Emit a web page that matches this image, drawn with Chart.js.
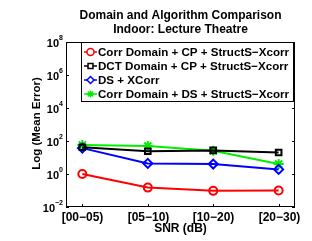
<!DOCTYPE html>
<html><head><meta charset="utf-8">
<script src="https://cdn.jsdelivr.net/npm/chart.js@4"></script>
<style>html,body{margin:0;padding:0;background:#fff}#w{width:312px;height:241px}</style>
</head><body><div id="w"><canvas id="c" width="312" height="241"></canvas></div>
<script>
const categories = ['[00\u221205)', '[05\u221210)', '[10\u221220)', '[20\u221230)'];
const seriesNames = [
  'Corr Domain + CP + StructS\u2212Xcorr',
  'DCT Domain + CP + StructS\u2212Xcorr',
  'DS + XCorr',
  'Corr Domain + DS + StructS\u2212Xcorr'
];
const corrCP = [1.0, 0.15, 0.095, 0.1];
const dctCP = [42, 24, 27, 20];
const dsXcorr = [37, 4.4, 4.0, 1.9];
const corrDS = [58, 50, 26, 4.0];
const yTickExponents = [-2, 0, 2, 4, 6, 8];
const titleLines = ['Domain and Algorithm Comparison', 'Indoor: Lecture Theatre'];
const xTitle = 'SNR (dB)';
const yTitle = 'Log (Mean Error)';

const FONT = '"Liberation Sans", Arial, Helvetica, sans-serif';
const toPts = arr => arr.map((v, i) => ({x: i + 1, y: v}));
const styles = [
  {color: '#ff0000', point: 'circle', r: 4},
  {color: '#000000', point: 'rect', r: 4},
  {color: '#0000ff', point: 'rectRot', r: 4.5},
  {color: '#00ee00', point: 'star', r: 5}
];
const values = [corrCP, dctCP, dsXcorr, corrDS];
const datasets = values.map((v, i) => ({
  label: seriesNames[i],
  data: toPts(v),
  borderColor: styles[i].color,
  backgroundColor: 'rgba(0,0,0,0)',
  borderWidth: 2,
  pointStyle: styles[i].point,
  pointRadius: styles[i].r,
  pointBorderWidth: 2,
  pointBorderColor: styles[i].color,
  pointBackgroundColor: 'rgba(0,0,0,0)',
  tension: 0
}));

const decor = {
  id: 'decor',
  afterDraw(chart) {
    const {ctx, chartArea: a, scales: {x, y}} = chart;
    ctx.save();
    ctx.strokeStyle = '#000';
    ctx.lineWidth = 1;
    ctx.strokeRect(a.left + 0.5, a.top + 0.5, a.right - a.left - 1, a.bottom - a.top - 1);
    ctx.fillStyle = '#000';
    yTickExponents.forEach(e => {
      const py = Math.round(y.getPixelForValue(Math.pow(10, e))) + 0.5;
      ctx.beginPath();
      ctx.moveTo(a.left, py); ctx.lineTo(a.left + 3, py);
      ctx.moveTo(a.right, py); ctx.lineTo(a.right - 3, py);
      ctx.stroke();
      const sup = e < 0 ? '\u2212' + Math.abs(e) : String(e);
      ctx.font = 'bold 7px ' + FONT;
      const sw = ctx.measureText(sup).width;
      ctx.textAlign = 'left';
      ctx.textBaseline = 'alphabetic';
      ctx.fillText(sup, 63 - sw, py - 3);
      ctx.font = 'bold 11px ' + FONT;
      ctx.textAlign = 'right';
      ctx.fillText('10', 63 - sw, py + 4.5);
    });
    ctx.font = 'bold 12px ' + FONT;
    ctx.textAlign = 'center';
    categories.forEach((c, i) => {
      const px = Math.round(x.getPixelForValue(i + 1)) + 0.5;
      ctx.beginPath();
      ctx.moveTo(px, a.bottom); ctx.lineTo(px, a.bottom - 3);
      ctx.moveTo(px, a.top); ctx.lineTo(px, a.top + 3);
      ctx.stroke();
      ctx.fillText(c, px, 220.5);
    });
    ctx.fillText(xTitle, (a.left + a.right) / 2, 231.5);
    ctx.fillText(titleLines[0], (a.left + a.right) / 2, 18.5);
    ctx.fillText(titleLines[1], (a.left + a.right) / 2, 32.5);
    ctx.save();
    ctx.font = 'bold 11.5px ' + FONT;
    ctx.translate(39.5, (a.top + a.bottom) / 2 - 1);
    ctx.rotate(-Math.PI / 2);
    ctx.fillText(yTitle, 0, 0);
    ctx.restore();
    // legend
    const lx0 = 81.5, ly0 = 42.5, lx1 = 293.5, ly1 = 101.5;
    ctx.fillStyle = '#fff';
    ctx.fillRect(lx0, ly0, lx1 - lx0, ly1 - ly0);
    ctx.strokeStyle = '#000';
    ctx.strokeRect(lx0, ly0, lx1 - lx0, ly1 - ly0);
    const rows = [52, 66, 80, 94];
    chart.data.datasets.forEach((ds, i) => {
      const ry = rows[i];
      ctx.strokeStyle = ds.borderColor;
      ctx.lineWidth = 1.5;
      ctx.beginPath();
      ctx.moveTo(84, ry); ctx.lineTo(97, ry);
      ctx.stroke();
      ctx.fillStyle = '#fff';
      Chart.helpers.drawPoint(ctx, {pointStyle: ds.pointStyle, radius: 3.5, borderWidth: 1.5}, 90.5, ry);
      ctx.fillStyle = '#000';
      ctx.font = 'bold 11.6px ' + FONT;
      ctx.textAlign = 'left';
      ctx.textBaseline = 'alphabetic';
      ctx.fillText(ds.label, 98, ry + 4);
    });
    ctx.restore();
  }
};

new Chart(document.getElementById('c'), {
  type: 'line',
  data: {datasets},
  options: {
    responsive: false,
    devicePixelRatio: 1,
    animation: false,
    layout: {padding: {left: 66, right: 17, top: 42, bottom: 34}},
    plugins: {legend: {display: false}, tooltip: {enabled: false}, title: {display: false}},
    scales: {
      x: {type: 'linear', min: 0.75, max: 4.25, display: false},
      y: {type: 'logarithmic', min: 1e-2, max: 1e8, display: false}
    }
  },
  plugins: [decor]
});
</script>
</body></html>
